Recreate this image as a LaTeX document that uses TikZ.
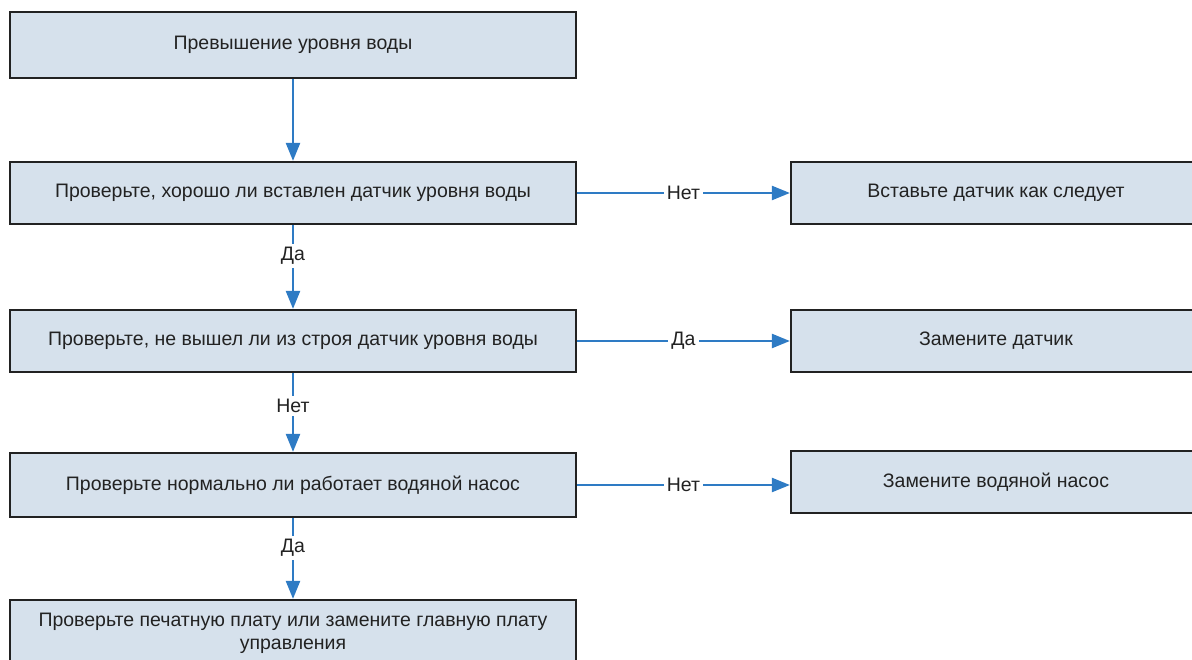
\documentclass[tikz,border=0pt]{standalone}
\usepackage{fontspec}
\setmainfont{Liberation Sans}
\usetikzlibrary{arrows.meta}
\definecolor{boxfill}{HTML}{D6E1EC}
\definecolor{boxline}{HTML}{222222}
\definecolor{arrowblue}{HTML}{2E7BC4}
\definecolor{txt}{HTML}{222222}
\begin{document}
\begin{tikzpicture}[x=1pt,y=-1pt,
  box/.style={draw=boxline, line width=2.2pt, fill=boxfill, text=txt, font=\fontsize{19.5}{23}\selectfont, inner sep=0pt, align=center},
  lbox/.style={box, minimum width=566pt},
  rbox/.style={box, minimum width=410pt, minimum height=62pt},
  flow/.style={draw=arrowblue, line width=2.4pt, -{Triangle[length=18pt,width=14pt]}},
  lab/.style={fill=white, text=txt, font=\fontsize{19.5}{22}\selectfont, inner sep=3pt}]
\useasboundingbox (0,0) rectangle (1192,660);
\node[lbox, minimum height=66pt] (b1) at (293,45) {Превышение уровня воды};
\node[lbox, minimum height=62pt] (b2) at (293,193) {Проверьте, хорошо ли вставлен датчик уровня воды};
\node[lbox, minimum height=62pt] (b3) at (293,341) {Проверьте, не вышел ли из строя датчик уровня воды};
\node[lbox, minimum height=64pt] (b4) at (293,485) {Проверьте нормально ли работает водяной насос};
\node[lbox, minimum height=66pt] (b5) at (293,633) {Проверьте печатную плату или замените главную плату\\управления};
\node[rbox] (r1) at (996,193) {Вставьте датчик как следует};
\node[rbox] (r2) at (996,341) {Замените датчик};
\node[rbox] (r3) at (996,482) {Замените водяной насос};
\draw[flow] (b1) -- (b2);
\draw[flow] (b2) -- node[lab, pos=0.37] {Да} (b3);
\draw[flow] (b3) -- node[lab, pos=0.42] {Нет} (b4);
\draw[flow] (b4) -- node[lab, pos=0.37] {Да} (b5);
\draw[flow] (b2.east) -- node[lab, pos=0.5] {Нет} (r1.west);
\draw[flow] (b3.east) -- node[lab, pos=0.5] {Да} (r2.west);
\draw[flow] (b4.east) -- node[lab, pos=0.5] {Нет} (b4.east -| r3.west);
\end{tikzpicture}
\end{document}
